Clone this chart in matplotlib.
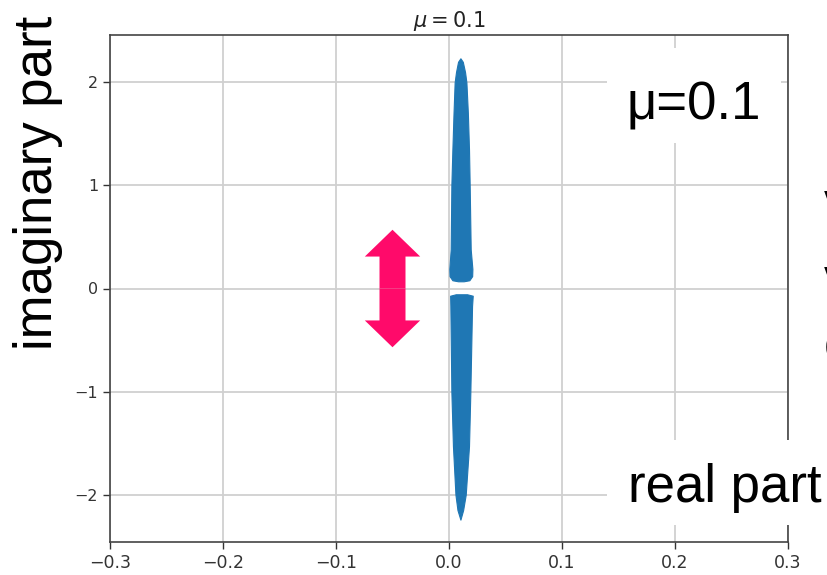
import numpy as np
import matplotlib.pyplot as plt
from matplotlib.patches import FancyArrow, Rectangle

# outline of the two eigenvalue bands: imaginary part vs left / right real-part edge
upper_imag = [0.07, 0.08, 0.12, 0.19, 0.38, 1.00, 1.35, 1.70, 2.00, 2.10, 2.20, 2.234]
upper_left = [0.0080, 0.0030, 0.0005, 0.0003, 0.0015, 0.0021, 0.0030, 0.0040, 0.0050, 0.0062, 0.0080, 0.0101]
upper_right = [0.0130, 0.0180, 0.0205, 0.0207, 0.0192, 0.0183, 0.0177, 0.0167, 0.0154, 0.0142, 0.0122, 0.0101]

lower_imag = [-0.056, -0.07, -0.17, -1.00, -1.53, -2.00, -2.15, -2.243]
lower_left = [0.0060, 0.0010, 0.0012, 0.0021, 0.0035, 0.0057, 0.0075, 0.0101]
lower_right = [0.0160, 0.0210, 0.0204, 0.0189, 0.0177, 0.0148, 0.0125, 0.0101]

xticks = [-0.3, -0.2, -0.1, 0.0, 0.1, 0.2, 0.3]
yticks = [-2, -1, 0, 1, 2]

# double arrow marking the gap
gap_x = -0.05
gap_half = 0.57

W, H = 827, 575
fig = plt.figure(figsize=(W / 100, H / 100), dpi=100)
ax = fig.add_axes([110 / W, 1 - 542 / H, 678 / W, 507 / H])

blue = '#1f77b4'
ax.fill_betweenx(upper_imag, upper_left, upper_right, color=blue, lw=0.8, zorder=3)
ax.fill_betweenx(lower_imag, lower_left, lower_right, color=blue, lw=0.8, zorder=3)

pink = '#ff0a6a'
for sign in (1, -1):
    ax.add_patch(FancyArrow(gap_x, 0, 0, sign * gap_half, width=0.023,
                            head_width=0.049, head_length=0.26,
                            length_includes_head=True, color=pink, lw=0, zorder=4))

ax.set_xlim(-0.3, 0.3)
ax.set_ylim(-2.46, 2.46)
ax.set_xticks(xticks)
ax.set_yticks(yticks)
ax.grid(True, color='#d0d0d0', lw=1.3)
ax.set_axisbelow(True)
ax.tick_params(length=5, width=1, colors='#333333')
ax.tick_params(axis='x', labelsize=12.5)
ax.tick_params(axis='y', labelsize=11.5)
for sp in ax.spines.values():
    sp.set_color('#444444')
    sp.set_linewidth(1.2)
ax.set_title(r'$\mu = 0.1$', fontsize=15, pad=6, color='#222222')

# white boxes behind the slide labels
for x0, y0, x1, y1 in [(607, 48, 781, 143), (607, 440, 830, 525)]:
    fig.add_artist(Rectangle((x0 / W, 1 - y1 / H), (x1 - x0) / W, (y1 - y0) / H,
                             transform=fig.transFigure, facecolor='white',
                             edgecolor='none', zorder=2))

big = dict(fontsize=38, family='Liberation Sans', color='black', zorder=5)
fig.text(626 / W, 1 - 120 / H, 'μ=0.1', ha='left', va='baseline', **big)
fig.text(628 / W, 1 - 502 / H, 'real part', ha='left', va='baseline', **big)
fig.text(52 / W, 1 - 182.5 / H, 'imaginary part', rotation=90,
         rotation_mode='anchor', ha='center', va='baseline', **big)

# neighbouring slide text, cut off at the right edge
for yb, ch in [(219, 'v'), (295, 'v'), (361, 'c')]:
    fig.text(824 / W, 1 - yb / H, ch, ha='left', va='baseline', **big)

fig.savefig('out.png', dpi=100)
